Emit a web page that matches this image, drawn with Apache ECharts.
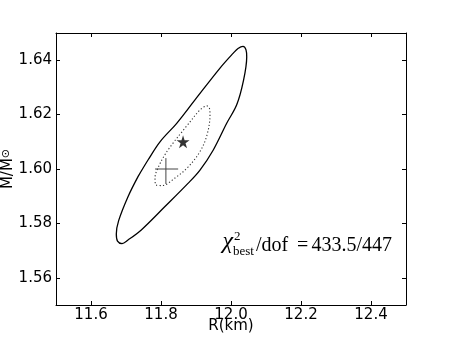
<!DOCTYPE html>
<html>
<head>
<meta charset="utf-8">
<script src="https://cdn.jsdelivr.net/npm/echarts@6/dist/echarts.min.js"></script>
<style>
html,body{margin:0;padding:0;background:#fff;}
#c{width:452px;height:339px;}
</style>
</head>
<body>
<div id="c"></div>
<script>
// ---- data ----
const xTicks = [11.6, 11.8, 12.0, 12.2, 12.4];
const yTicks = [1.56, 1.58, 1.60, 1.62, 1.64];
const xRange = [11.5, 12.5];
const yRange = [1.55, 1.65];

const solidR = [11.7343, 11.7629, 11.7971, 11.8449, 11.8971, 11.9686, 12.0066, 12.0200, 12.0343, 12.0429, 12.0449, 12.0351, 12.0163, 11.9877, 11.9494, 11.9114, 11.8771, 11.8106, 11.7437, 11.7057, 11.6886, 11.6757, 11.6723, 11.6790, 11.7057, 11.7343];
const solidM = [1.5972, 1.6033, 1.6100, 1.6168, 1.6254, 1.6371, 1.6426, 1.6443, 1.6451, 1.6438, 1.6412, 1.6322, 1.6236, 1.6168, 1.6070, 1.5996, 1.5947, 1.5861, 1.5776, 1.5739, 1.5726, 1.5735, 1.5761, 1.5810, 1.5898, 1.5972];

const dotR = [11.8457, 11.8829, 11.9114, 11.9314, 11.9386, 11.9400, 11.9314, 11.9114, 11.8771, 11.8400, 11.8029, 11.7857, 11.7829, 11.7914, 11.8143, 11.8457];
const dotM = [1.6114, 1.6173, 1.6217, 1.6232, 1.6222, 1.6199, 1.6125, 1.6064, 1.6007, 1.5967, 1.5939, 1.5941, 1.5967, 1.6004, 1.6059, 1.6114];

const starPoint = [11.863, 1.610];
const crossCenter = [11.814, 1.600];
const crossXErr = [0.031, 0.035];   // minus, plus
const crossYErr = [0.0055, 0.004];  // minus, plus

const chiLabel = { chi: 'χ', sup: '2', sub: 'best', rest: '/dof', eq: '=', val: '433.5/447' };

// ---- build ----
const zip = (a, b) => a.map((v, i) => [v, b[i]]);
const crossH = [[crossCenter[0] - crossXErr[0], crossCenter[1]], [crossCenter[0] + crossXErr[1], crossCenter[1]]];
const crossV = [[crossCenter[0], crossCenter[1] - crossYErr[0]], [crossCenter[0], crossCenter[1] + crossYErr[1]]];

const starPath = 'path://M50,0 L61.2,34.5 L97.6,34.5 L68.2,55.9 L79.4,90.5 L50,69.1 L20.6,90.5 L31.8,55.9 L2.4,34.5 L38.8,34.5 Z';

const axisCommon = {
  type: 'value',
  axisLine: { show: true, lineStyle: { color: '#000', width: 1 } },
  splitLine: { show: false },
  axisTick: { show: true, inside: true, length: 4, lineStyle: { color: '#000', width: 1 } }
};
const font = 'DejaVu Sans';
const serif = '"Liberation Serif"';

const chart = echarts.init(document.getElementById('c'), null, { renderer: 'canvas' });
chart.setOption({
  animation: false,
  backgroundColor: '#fff',
  grid: { left: 56, top: 33, width: 350, height: 272, containLabel: false, outerBoundsMode: 'none' },
  xAxis: [
    Object.assign({}, axisCommon, {
      position: 'bottom', min: xRange[0], max: xRange[1],
      name: 'R(km)', nameLocation: 'middle', nameGap: 14, nameMoveOverlap: false,
      nameTextStyle: { fontFamily: font, fontSize: 15, color: '#000', verticalAlign: 'top' },
      axisTick: Object.assign({}, axisCommon.axisTick, { customValues: xTicks }),
      axisLabel: { customValues: xTicks, margin: 3, fontFamily: font, fontSize: 15, color: '#000',
        formatter: v => Number(v).toFixed(1) }
    }),
    Object.assign({}, axisCommon, {
      position: 'top', min: xRange[0], max: xRange[1],
      axisTick: Object.assign({}, axisCommon.axisTick, { customValues: xTicks }),
      axisLabel: { show: false }
    })
  ],
  yAxis: [
    Object.assign({}, axisCommon, {
      position: 'left', min: yRange[0], max: yRange[1],
      name: 'M/M{s|⊙}', nameLocation: 'middle', nameGap: 40, nameRotate: 90, nameMoveOverlap: false,
      nameTextStyle: { fontFamily: font, fontSize: 15, color: '#000',
        rich: { s: { fontFamily: font, fontSize: 11, color: '#000', verticalAlign: 'top' } } },
      axisTick: Object.assign({}, axisCommon.axisTick, { customValues: yTicks }),
      axisLabel: { customValues: yTicks, margin: 4, fontFamily: font, fontSize: 15, color: '#000',
        formatter: v => Number(v).toFixed(2) }
    }),
    Object.assign({}, axisCommon, {
      position: 'right', min: yRange[0], max: yRange[1],
      axisTick: Object.assign({}, axisCommon.axisTick, { customValues: yTicks }),
      axisLabel: { show: false }
    })
  ],
  series: [
    { type: 'line', data: zip(solidR, solidM), showSymbol: false, smooth: 0.35,
      lineStyle: { color: '#000', width: 1.3 }, silent: true },
    { type: 'line', data: zip(dotR, dotM), showSymbol: false, smooth: 0.35,
      lineStyle: { color: '#333', width: 1.1, type: [1.2, 2.2] }, silent: true },
    { type: 'line', data: crossH, showSymbol: false, lineStyle: { color: '#444', width: 1 }, silent: true },
    { type: 'line', data: crossV, showSymbol: false, lineStyle: { color: '#444', width: 1 }, silent: true },
    { type: 'scatter', data: [starPoint], symbol: starPath, symbolSize: 13,
      itemStyle: { color: '#000' }, silent: true }
  ],
  graphic: [
    { type: 'text', x: 233, y: 254, style: { text: chiLabel.chi, font: 'italic 24px ' + serif, fill: '#000', align: 'right', verticalAlign: 'bottom' } },
    { type: 'text', x: 234, y: 243, style: { text: chiLabel.sup, font: '13px ' + serif, fill: '#000', align: 'left', verticalAlign: 'bottom' } },
    { type: 'text', x: 233, y: 258, style: { text: chiLabel.sub, font: '13px ' + serif, fill: '#000', align: 'left', verticalAlign: 'bottom' } },
    { type: 'text', x: 256, y: 256, style: { text: chiLabel.rest, font: '20px ' + serif, fill: '#000', align: 'left', verticalAlign: 'bottom' } },
    { type: 'text', x: 297, y: 256, style: { text: chiLabel.eq, font: '20px ' + serif, fill: '#000', align: 'left', verticalAlign: 'bottom' } },
    { type: 'text', x: 392, y: 256, style: { text: chiLabel.val, font: '20px ' + serif, fill: '#000', align: 'right', verticalAlign: 'bottom' } }
  ]
});
</script>
</body>
</html>
